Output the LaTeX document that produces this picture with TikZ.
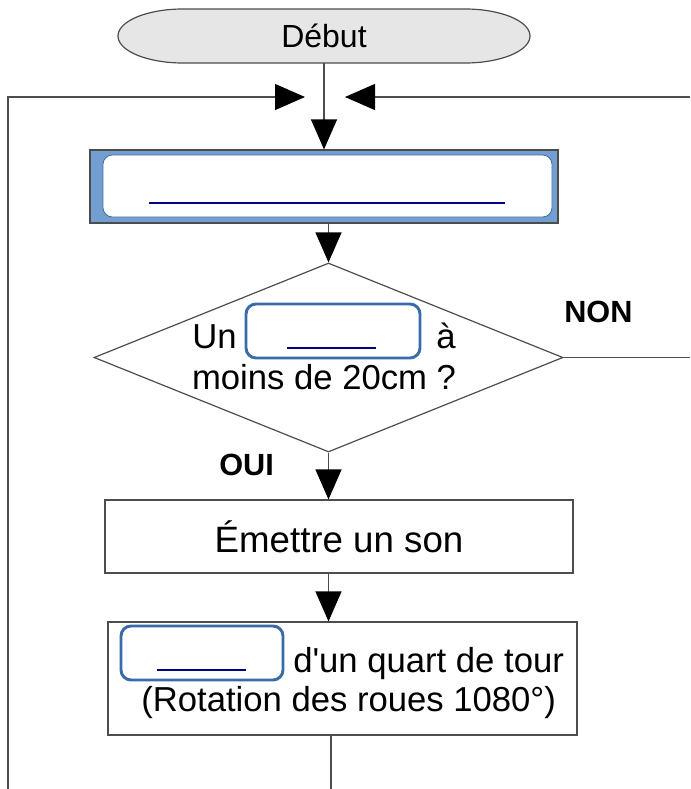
\documentclass[tikz,border=0pt]{standalone}
\usepackage{fontspec}
\setmainfont{Liberation Sans}
\usetikzlibrary{arrows.meta,shapes.geometric}
\definecolor{linec}{HTML}{4D4D4D}
\definecolor{termfill}{HTML}{E6E6E6}
\definecolor{bluefill}{HTML}{729FCF}
\definecolor{blueline}{HTML}{3A6BA8}
\definecolor{navyline}{HTML}{000080}
\begin{document}
\begin{tikzpicture}[x=0.75pt,y=-0.75pt,
  font=\fontsize{26pt}{31pt}\selectfont,
  conn/.style={draw=linec, line width=0.9pt},
  arrowtip/.style={-{Triangle[length=22.5pt,width=19.5pt,color=black]}},
  boxst/.style={draw=linec, line width=0.9pt, fill=white, inner sep=0},
  blank/.style={draw=blueline, line width=2.2pt, rounded corners=7.5pt, inner sep=0},
  uline/.style={draw=navyline, line width=2.2pt},
  txt/.style={inner sep=0}
]
\useasboundingbox (0,0) rectangle (690,789);

% terminal (elliptical ends)
\path[draw=linec, line width=0.9pt, fill=termfill]
  (183,9) -- (465,9) arc[start angle=90, end angle=-90, x radius=48.75pt, y radius=20.25pt]
  -- (183,63) arc[start angle=270, end angle=90, x radius=48.75pt, y radius=20.25pt] -- cycle;
\node[txt, minimum width=309pt, minimum height=40.5pt, font=\fontsize{24pt}{28pt}\selectfont] (start) at (324,36) {Début};

% initialisation box
\node[draw=black!70, fill=bluefill, line width=0.9pt, minimum width=351pt, minimum height=54.75pt, inner sep=0] (init) at (324,186.5) {};
\node[draw=blueline, line width=0.6pt, fill=white, rounded corners=7pt, minimum width=336.75pt, minimum height=46.5pt, inner sep=0] (initin) at (327.5,186) {};
\draw[uline] (149,203) -- (505,203);

% decision
\node[diamond, draw=linec, line width=0.9pt, minimum width=351.75pt, minimum height=141.75pt, inner sep=0] (test) at (328.5,357.5) {};
\node[blank, minimum width=130.5pt, minimum height=40.5pt] (blank1) at (333,331) {};
\draw[uline] (287,348) -- (376,348);
\node[txt, anchor=base west] (un) at (192,348) {Un};
\node[txt, anchor=base west] (aa) at (436,348) {à};
\node[txt, anchor=base] (moins) at (324,389) {moins de 20cm ?};
\node[txt, anchor=base west, font=\bfseries\fontsize{23pt}{27pt}\selectfont] (non) at (564,322) {NON};
\node[txt, anchor=base west, font=\bfseries\fontsize{23pt}{27pt}\selectfont] (oui) at (219,475) {OUI};

% actions
\node[boxst, minimum width=351pt, minimum height=54.75pt, font=\fontsize{27.5pt}{33pt}\selectfont] (emit) at (339,536.5) {Émettre un son};
\node[boxst, minimum width=351.75pt, minimum height=84.75pt] (turn) at (342.5,678.5) {};
\node[blank, minimum width=121.5pt, minimum height=40.5pt] (blank2) at (202,653) {};
\draw[uline] (157,670) -- (246,670);
\node[txt, anchor=base west] (quart) at (293,672) {d\textquotesingle un quart de tour};
\node[txt, anchor=base west] (rot) at (141,711) {(Rotation des roues 1080°)};

% free ends
\coordinate (ltip) at (305,97);
\coordinate (rtip) at (345,97);
\coordinate (lcorner) at (8,97);
\coordinate (lbot) at (8,789);
\coordinate (redge) at (690,97);
\coordinate (redge2) at (690,357.5);
\coordinate (bot) at (331,789);

% connectors
\draw[conn,arrowtip] (start.south) -- (init.north);
\draw[conn,arrowtip] (lbot) -- (lcorner) -- (ltip);
\draw[conn,arrowtip] (redge) -- (rtip);
\draw[conn,arrowtip] (test.north |- init.south) -- (test.north);
\draw[conn] (test.east) -- (redge2);
\draw[conn,arrowtip] (test.south) -- (test.south |- emit.north);
\draw[conn,arrowtip] (test.south |- emit.south) -- (test.south |- turn.north);
\draw[conn] (bot |- turn.south) -- (bot);
\end{tikzpicture}
\end{document}
